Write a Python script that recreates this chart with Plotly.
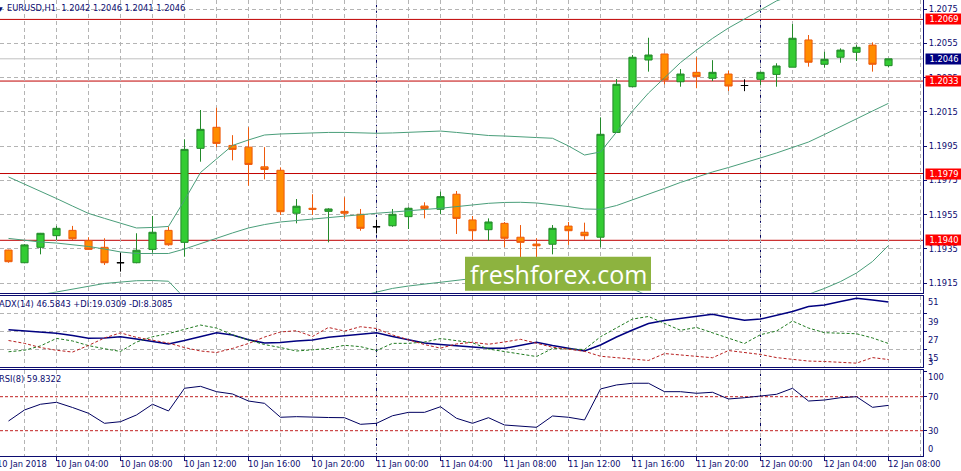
import plotly.graph_objects as go
import pandas as pd

# ---------------- data ----------------
bar_times = pd.date_range("2018-01-10 01:00", periods=56, freq="h")

open_p = [1.19343, 1.19269, 1.19359, 1.19427, 1.19458, 1.19398, 1.19359, 1.19269, 1.19269, 1.19347,
          1.19458, 1.19388, 1.19937, 1.20060, 1.19954, 1.19944, 1.19829, 1.19809, 1.19558, 1.19587,
          1.19569, 1.19569, 1.19552, 1.19479, 1.19485, 1.19538, 1.19600, 1.19581, 1.19669, 1.19519,
          1.19462, 1.19499, 1.19418, 1.19378, 1.19377, 1.19483, 1.19447, 1.19418, 1.20030, 1.20297,
          1.20453, 1.20488, 1.20326, 1.20381, 1.20346, 1.20371, 1.20304, 1.20340, 1.20369, 1.20411,
          1.20570, 1.20428, 1.20469, 1.20498, 1.20540, 1.20420]
high_p = [1.19345, 1.19378, 1.19443, 1.19484, 1.19484, 1.19418, 1.19412, 1.19328, 1.19441, 1.19542,
          1.19480, 1.19990, 1.20161, 1.20174, 1.20014, 1.20060, 1.19944, 1.19826, 1.19641, 1.19669,
          1.19587, 1.19651, 1.19583, 1.19519, 1.19583, 1.19593, 1.19622, 1.19684, 1.19688, 1.19542,
          1.19528, 1.19507, 1.19489, 1.19412, 1.19489, 1.19507, 1.19503, 1.20118, 1.20342, 1.20482,
          1.20583, 1.20490, 1.20400, 1.20469, 1.20452, 1.20390, 1.20340, 1.20385, 1.20434, 1.20663,
          1.20599, 1.20501, 1.20521, 1.20540, 1.20556, 1.20460]
low_p = [1.19269, 1.19266, 1.19318, 1.19402, 1.19402, 1.19345, 1.19256, 1.19217, 1.19266, 1.19328,
         1.19368, 1.19304, 1.19859, 1.19944, 1.19867, 1.19719, 1.19756, 1.19548, 1.19499, 1.19548,
         1.19388, 1.19528, 1.19456, 1.19441, 1.19479, 1.19466, 1.19528, 1.19552, 1.19437, 1.19398,
         1.19398, 1.19359, 1.19300, 1.19290, 1.19318, 1.19373, 1.19402, 1.19359, 1.20027, 1.20295,
         1.20385, 1.20311, 1.20297, 1.20288, 1.20330, 1.20272, 1.20271, 1.20307, 1.20297, 1.20411,
         1.20414, 1.20408, 1.20437, 1.20447, 1.20385, 1.20410]
close_p = [1.19275, 1.19373, 1.19441, 1.19470, 1.19409, 1.19347, 1.19269, 1.19269, 1.19342, 1.19447,
           1.19374, 1.19931, 1.20048, 1.19966, 1.19931, 1.19843, 1.19814, 1.19567, 1.19599, 1.19581,
           1.19583, 1.19558, 1.19470, 1.19479, 1.19552, 1.19587, 1.19585, 1.19655, 1.19528, 1.19456,
           1.19507, 1.19412, 1.19388, 1.19368, 1.19470, 1.19456, 1.19427, 1.20019, 1.20311, 1.20469,
           1.20482, 1.20336, 1.20371, 1.20356, 1.20381, 1.20301, 1.20304, 1.20381, 1.20418, 1.20580,
           1.20440, 1.20457, 1.20511, 1.20527, 1.20428, 1.20460]

bb_upper = [1.19770, 1.19729, 1.19688, 1.19644, 1.19600, 1.19557, 1.19528, 1.19499, 1.19472, 1.19475,
            1.19481, 1.19634, 1.19796, 1.19875, 1.19954, 1.19986, 1.20015, 1.20021, 1.20025, 1.20027,
            1.20030, 1.20030, 1.20027, 1.20025, 1.20027, 1.20030, 1.20035, 1.20038, 1.20030, 1.20021,
            1.20012, 1.20009, 1.20003, 1.20000, 1.19996, 1.19951, 1.19898, 1.19916, 1.20032, 1.20155,
            1.20260, 1.20351, 1.20438, 1.20511, 1.20579, 1.20640, 1.20695, 1.20745, 1.20798, 1.20833,
            1.20862, 1.20917, 1.20970, 1.21008, 1.21034, 1.21031]
bb_mid = [1.19411, 1.19399, 1.19390, 1.19384, 1.19375, 1.19364, 1.19349, 1.19332, 1.19323, 1.19322,
          1.19323, 1.19349, 1.19381, 1.19413, 1.19443, 1.19472, 1.19492, 1.19507, 1.19516, 1.19524,
          1.19533, 1.19542, 1.19551, 1.19558, 1.19565, 1.19574, 1.19580, 1.19587, 1.19597, 1.19609,
          1.19616, 1.19621, 1.19622, 1.19618, 1.19609, 1.19597, 1.19583, 1.19581, 1.19603, 1.19635,
          1.19667, 1.19703, 1.19738, 1.19770, 1.19799, 1.19825, 1.19851, 1.19881, 1.19910, 1.19942,
          1.19974, 1.20018, 1.20065, 1.20108, 1.20155, 1.20200]
bb_lower = [1.19051, 1.19069, 1.19083, 1.19098, 1.19116, 1.19133, 1.19148, 1.19156, 1.19164, 1.19165,
            1.19161, 1.19063, 1.18967, 1.18952, 1.18932, 1.18958, 1.18970, 1.18993, 1.19006, 1.19022,
            1.19037, 1.19054, 1.19075, 1.19098, 1.19119, 1.19133, 1.19145, 1.19156, 1.19168, 1.19177,
            1.19183, 1.19189, 1.19192, 1.19189, 1.19186, 1.19238, 1.19267, 1.19246, 1.19174, 1.19116,
            1.19075, 1.19060, 1.19037, 1.19028, 1.19019, 1.19010, 1.19008, 1.19016, 1.19022, 1.19051,
            1.19086, 1.19119, 1.19159, 1.19209, 1.19276, 1.19370]

adx_main = [28.2, 27.3, 26.5, 25.9, 24.3, 22.5, 22.6, 23.5, 22.0, 20.5,
            18.7, 21.0, 23.7, 26.2, 24.7, 21.5, 19.3, 19.7, 20.7, 21.3,
            23.1, 24.1, 25.0, 26.1, 23.6, 21.3, 19.3, 18.3, 17.3, 16.7,
            15.8, 15.8, 18.0, 19.8, 17.7, 16.0, 14.0, 18.0, 23.3, 28.0,
            32.3, 34.3, 35.7, 37.3, 38.5, 36.3, 34.5, 35.3, 37.7, 40.3,
            43.7, 44.7, 47.0, 49.2, 48.0, 46.6]
plus_di = [13.5, 14.5, 17.4, 22.4, 20.7, 17.6, 15.5, 13.7, 20.0, 23.5,
           25.6, 28.7, 31.3, 29.3, 24.8, 21.3, 18.3, 16.3, 14.0, 14.8,
           15.7, 17.8, 16.9, 14.3, 19.1, 19.1, 20.0, 22.3, 20.7, 19.5,
           15.3, 13.5, 12.0, 10.3, 15.7, 15.3, 15.0, 23.5, 29.3, 35.3,
           37.0, 32.3, 27.8, 29.7, 26.0, 22.3, 19.0, 24.9, 27.3, 34.0,
           29.3, 26.2, 26.0, 25.5, 22.7, 19.0]
minus_di = [21.0, 19.1, 16.3, 14.5, 13.3, 17.7, 22.7, 26.1, 23.1, 21.0,
            19.3, 16.3, 14.0, 13.0, 15.7, 19.0, 23.3, 26.7, 27.5, 23.7,
            29.7, 27.3, 30.2, 29.0, 24.7, 21.5, 18.3, 15.9, 18.7, 19.8,
            18.5, 20.0, 21.8, 19.2, 16.5, 15.2, 13.8, 10.5, 9.5, 8.5,
            7.7, 12.3, 11.5, 10.3, 9.5, 14.3, 12.8, 11.7, 9.6, 8.3,
            7.3, 7.0, 6.5, 5.9, 9.6, 8.3]
rsi_vals = [41.4, 54.4, 61.1, 63.4, 57.3, 50.5, 38.7, 40.6, 48.5, 61.1,
            53.2, 79.9, 82.2, 75.9, 73.2, 64.9, 62.2, 45.8, 46.5, 45.8,
            45.5, 45.3, 37.5, 38.7, 47.6, 51.6, 51.6, 58.2, 44.6, 38.7,
            45.3, 36.7, 35.5, 34.0, 47.3, 45.8, 42.6, 79.1, 83.8, 85.8,
            85.8, 75.9, 75.9, 74.0, 75.2, 67.3, 68.8, 71.2, 72.8, 79.9,
            64.9, 66.1, 68.8, 70.0, 57.5, 59.8]

level_prices = [1.2069, 1.2033, 1.1979, 1.1940]
bid_price = 1.2046
price_ticks = [1.1915, 1.1935, 1.1955, 1.1975, 1.1995, 1.2015, 1.2035, 1.2055, 1.2075]
adx_levels = [51, 39, 27, 15]
adx_min_label = 3
rsi_levels = [70, 30]
rsi_labels = [100, 70, 30, 0]
day_starts = ["2018-01-11 00:00", "2018-01-12 00:00"]
time_label_pos = pd.date_range("2018-01-10 00:00", periods=15, freq="4h")
time_labels = ["10 Jan 2018", "10 Jan 04:00", "10 Jan 08:00", "10 Jan 12:00", "10 Jan 16:00",
               "10 Jan 20:00", "11 Jan 00:00", "11 Jan 04:00", "11 Jan 08:00", "11 Jan 12:00",
               "11 Jan 16:00", "11 Jan 20:00", "12 Jan 00:00", "12 Jan 04:00", "12 Jan 08:00"]
header_text = "EURUSD,H1  1.2042 1.2046 1.2041 1.2046"
adx_title = "ADX(14) 46.5843 +DI:19.0309 -DI:8.3085"
rsi_title = "RSI(8) 59.8322"
watermark = "freshforex.com"

# ---------------- styling ----------------
W, H = 961, 471
ML, MR, MT, MB = 0, 38, 0, 15
PW, PH = W - ML - MR, H - MT - MB
NAVY = "#0c0c70"
GRID = "#b4b4b4"
GDASH = "4px,3px"
FONT = "DejaVu Sans"
FS = 8.3
TWO_H = 2 * 3600 * 1000


def px(x):
    return x / PW


def py(y):
    return 1 - y / PH


x_range = ["2018-01-10 00:28:07", "2018-01-12 10:09:22"]
y_main = [1.190934, 1.208034]
y_adx = [3.33, 50.67]
y_rsi = [0.24, 101.4]

fig = go.Figure()

# Bollinger bands
for band in (bb_upper, bb_mid, bb_lower):
    fig.add_trace(go.Scatter(x=bar_times, y=band, mode="lines",
                             line=dict(color="#4a9e7a", width=1),
                             xaxis="x", yaxis="y", hoverinfo="skip"))

doji = [i for i in range(len(open_p)) if open_p[i] == close_p[i]]
regular = [i for i in range(len(open_p)) if open_p[i] != close_p[i]]


def sel(arr, idx):
    return [arr[i] for i in idx]


fig.add_trace(go.Candlestick(
    x=sel(bar_times, regular), open=sel(open_p, regular), high=sel(high_p, regular),
    low=sel(low_p, regular), close=sel(close_p, regular),
    increasing=dict(line=dict(color="#23892a", width=1), fillcolor="#33cc33"),
    decreasing=dict(line=dict(color="#ee5a0c", width=1), fillcolor="#ff8c00"),
    whiskerwidth=0, xaxis="x", yaxis="y", hoverinfo="skip"))
fig.add_trace(go.Candlestick(
    x=sel(bar_times, doji), open=sel(open_p, doji), high=sel(high_p, doji),
    low=sel(low_p, doji), close=sel(close_p, doji),
    increasing=dict(line=dict(color="#000000", width=1), fillcolor="#000000"),
    decreasing=dict(line=dict(color="#000000", width=1), fillcolor="#000000"),
    whiskerwidth=0, xaxis="x", yaxis="y", hoverinfo="skip"))

# ADX
fig.add_trace(go.Scatter(x=bar_times, y=adx_main, mode="lines",
                         line=dict(color="#000080", width=1.5), xaxis="x2", yaxis="y2"))
fig.add_trace(go.Scatter(x=bar_times, y=plus_di, mode="lines",
                         line=dict(color="#1f7a1f", width=1, dash="3px,2px"), xaxis="x2", yaxis="y2"))
fig.add_trace(go.Scatter(x=bar_times, y=minus_di, mode="lines",
                         line=dict(color="#b82020", width=1, dash="3px,2px"), xaxis="x2", yaxis="y2"))
# RSI
fig.add_trace(go.Scatter(x=bar_times, y=rsi_vals, mode="lines",
                         line=dict(color="#000060", width=1), xaxis="x3", yaxis="y3"))

# domains in pixels
main_dom = [py(292.8), 1]
adx_dom = [py(367), py(296)]
rsi_dom = [0, py(370)]

xcommon = dict(type="date", range=x_range, showticklabels=False, showline=True,
               linecolor=NAVY, linewidth=1, zeroline=False,
               showgrid=True, gridcolor=GRID, griddash=GDASH, gridwidth=1,
               tickmode="linear", tick0="2018-01-10 00:00", dtick=TWO_H, ticks="")

layout = dict(
    width=W, height=H, margin=dict(l=ML, r=MR, t=MT, b=MB),
    paper_bgcolor="white", plot_bgcolor="white", showlegend=False,
    boxgap=0.36, hovermode=False,
    font=dict(family=FONT, size=FS, color=NAVY),
    xaxis=dict(**xcommon, anchor="y", rangeslider=dict(visible=False)),
    xaxis2=dict(**xcommon, anchor="y2", matches="x", mirror=True),
    xaxis3=dict(type="date", range=x_range, anchor="y3", matches="x", showline=True, mirror=True,
                linecolor=NAVY, linewidth=1, zeroline=False, showticklabels=False,
                tickmode="array", tickvals=list(time_label_pos), ticks="outside", ticklen=4,
                tickcolor=NAVY, showgrid=True, gridcolor=GRID, griddash=GDASH,
                minor=dict(tickmode="linear", tick0="2018-01-10 00:00", dtick=TWO_H,
                           showgrid=True, gridcolor=GRID, griddash=GDASH, ticks="")),
    yaxis=dict(domain=main_dom, range=y_main, side="right", anchor="x",
               showline=True, linecolor=NAVY, linewidth=1, zeroline=False,
               tickmode="array", tickvals=price_ticks, tickformat=".4f",
               ticks="outside", ticklen=3, tickcolor=NAVY,
               tickfont=dict(family=FONT, size=FS, color=NAVY),
               showgrid=True, gridcolor=GRID, griddash=GDASH),
    yaxis2=dict(domain=adx_dom, range=y_adx, side="right", anchor="x2",
                showline=True, linecolor=NAVY, linewidth=1, zeroline=False,
                tickmode="array", tickvals=adx_levels, showticklabels=False,
                ticks="outside", ticklen=3, tickcolor=NAVY,
                showgrid=True, gridcolor=GRID, griddash=GDASH),
    yaxis3=dict(domain=rsi_dom, range=y_rsi, side="right", anchor="x3",
                showline=True, linecolor=NAVY, linewidth=1, zeroline=False,
                tickmode="array", tickvals=rsi_labels, showticklabels=False,
                ticks="outside", ticklen=3, tickcolor=NAVY, showgrid=False),
)
fig.update_layout(**layout)

shapes = []
# horizontal red levels
for lv in level_prices:
    shapes.append(dict(type="line", xref="x domain", yref="y", x0=0, x1=1, y0=lv, y1=lv,
                       line=dict(color="#c00000", width=1), layer="below"))
# bid line
shapes.append(dict(type="line", xref="x domain", yref="y", x0=0, x1=1, y0=bid_price, y1=bid_price,
                   line=dict(color="#c0c0c0", width=1), layer="below"))
# RSI levels
for lv in rsi_levels:
    shapes.append(dict(type="line", xref="x3 domain", yref="y3", x0=0, x1=1, y0=lv, y1=lv,
                       line=dict(color="#c02020", width=1, dash="3px,2px"), layer="below"))
# day separators
for d in day_starts:
    for xr, yr in (("x", "y domain"), ("x2", "y2 domain"), ("x3", "y3 domain")):
        shapes.append(dict(type="line", xref=xr, yref=yr, x0=d, x1=d, y0=0, y1=1,
                           line=dict(color="#000060", width=1, dash="3px,2px"), layer="below"))
# watermark box
shapes.append(dict(type="rect", xref="paper", yref="paper",
                   x0=px(465), x1=px(651), y0=py(290.7), y1=py(256.7),
                   fillcolor="#8db33f", line=dict(width=0), layer="above"))
fig.update_layout(shapes=shapes)

ann = []
ann.append(dict(text=watermark, xref="paper", yref="paper", x=px(558), y=py(273.5),
                xanchor="center", yanchor="middle", showarrow=False,
                font=dict(family="Open Sans", size=25, color="white")))
ann.append(dict(text=header_text, xref="paper", yref="paper", x=px(6), y=py(7.5),
                xanchor="left", yanchor="middle", showarrow=False, borderpad=0,
                font=dict(family=FONT, size=FS, color=NAVY)))
ann.append(dict(text="▼", xref="paper", yref="paper", x=px(0), y=py(8), xanchor="center",
                yanchor="middle", showarrow=False, borderpad=0,
                font=dict(family=FONT, size=6, color=NAVY)))
ann.append(dict(text=adx_title, xref="paper", yref="paper", x=px(-2), y=py(304),
                xanchor="left", yanchor="middle", showarrow=False, borderpad=0,
                font=dict(family=FONT, size=FS, color=NAVY)))
ann.append(dict(text=rsi_title, xref="paper", yref="paper", x=px(-2.5), y=py(379),
                xanchor="left", yanchor="middle", showarrow=False, borderpad=0,
                font=dict(family=FONT, size=FS, color=NAVY)))

# price boxes on the right
for lv in level_prices:
    ann.append(dict(text=f"{lv:.4f}", xref="paper", yref="y", x=1, y=lv, xanchor="left",
                    yanchor="middle", xshift=2, showarrow=False, bgcolor="#ff0000",
                    width=36, height=10, borderpad=0,
                    font=dict(family=FONT, size=FS, color="white")))
ann.append(dict(text=f"{bid_price:.4f}", xref="paper", yref="y", x=1, y=bid_price, xanchor="left",
                yanchor="middle", xshift=2, showarrow=False, bgcolor="#000080",
                width=36, height=10, borderpad=0,
                font=dict(family=FONT, size=FS, color="white")))

# ADX labels (drawn just under their level)
for lv, ypx in zip(adx_levels, (301.7, 321.7, 340.0, 357.7)):
    ann.append(dict(text=str(lv), xref="paper", yref="paper", x=1, y=py(ypx), xanchor="left",
                    yanchor="middle", xshift=4, showarrow=False, borderpad=0,
                    font=dict(family=FONT, size=FS, color=NAVY)))
ann.append(dict(text=str(adx_min_label), xref="paper", yref="paper", x=1, y=py(361.5),
                xanchor="left", yanchor="middle", xshift=4, showarrow=False, borderpad=0,
                font=dict(family=FONT, size=FS, color=NAVY)))
# RSI labels
for lv, ypx in zip(rsi_labels, (376.7, 396.7, 430.7, 449.3)):
    ann.append(dict(text=str(lv), xref="paper", yref="paper", x=1, y=py(ypx),
                    xanchor="left", yanchor="middle", xshift=4, showarrow=False, borderpad=0,
                    font=dict(family=FONT, size=FS, color=NAVY)))

# time labels
for i, (t, lab) in enumerate(zip(time_label_pos, time_labels)):
    if i == 0:
        ann.append(dict(text=lab, xref="paper", yref="paper", x=0, xshift=-4.5, y=py(464),
                        xanchor="left", yanchor="middle", showarrow=False, borderpad=0,
                        font=dict(family=FONT, size=FS, color=NAVY)))
    else:
        ann.append(dict(text=lab, xref="x3", yref="paper", x=t, y=py(464), xshift=-1.5,
                        xanchor="left", yanchor="middle", showarrow=False, borderpad=0,
                        font=dict(family=FONT, size=FS, color=NAVY)))
fig.update_layout(annotations=ann)

fig.write_html("out.html", config={"displayModeBar": False},
               post_script="document.body.style.margin='0px';document.body.style.overflow='hidden';")
